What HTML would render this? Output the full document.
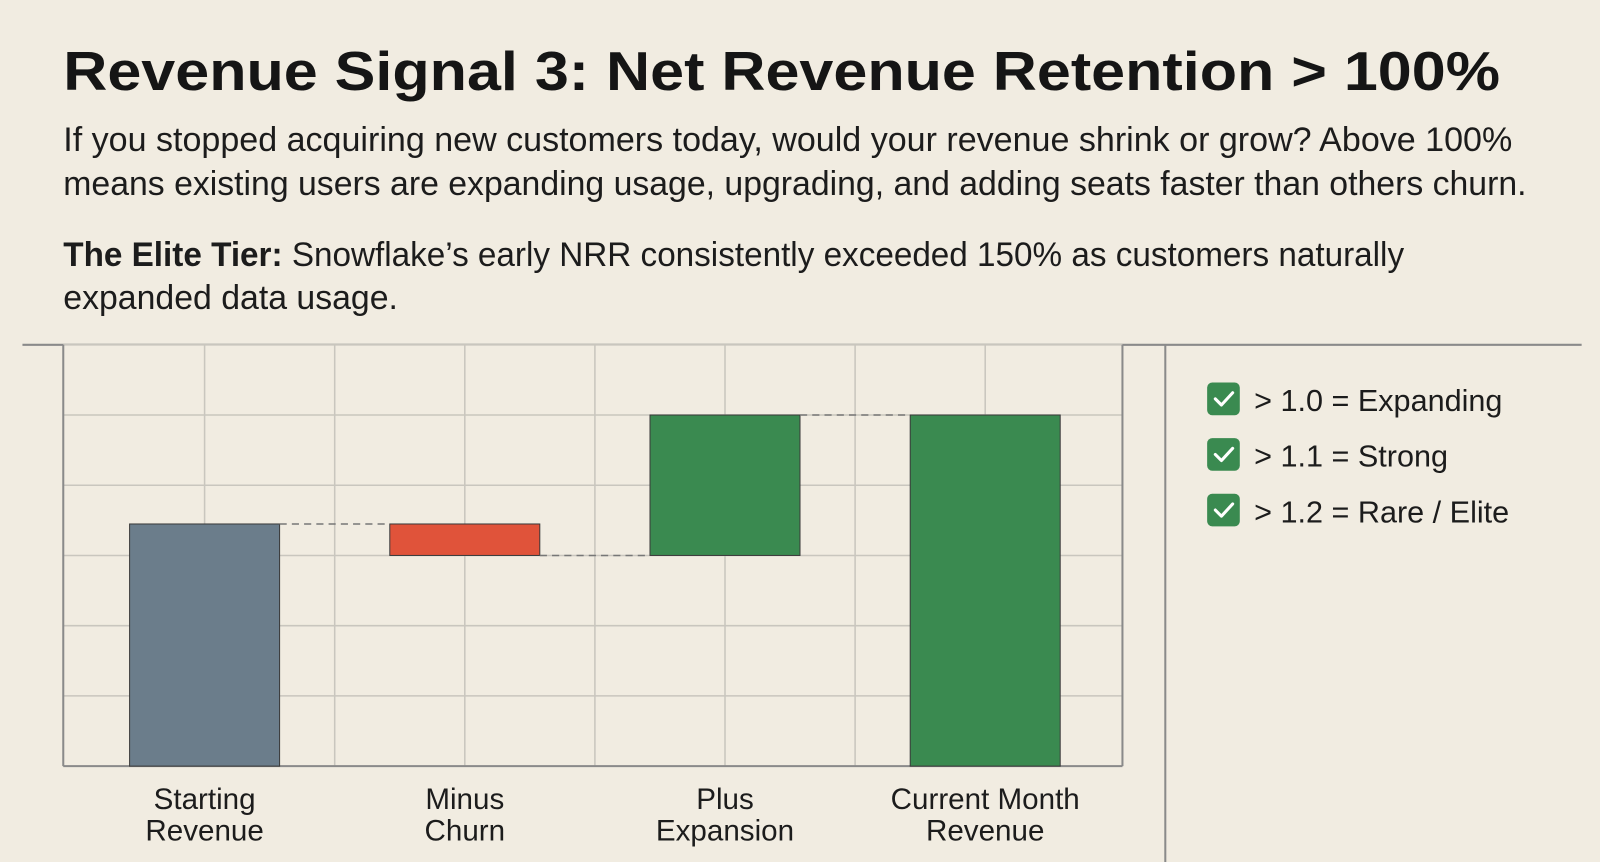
<!DOCTYPE html>
<html><head><meta charset="utf-8"><style>
html,body{margin:0;padding:0;background:#f1ece1;}
svg{display:block;font-family:"Liberation Sans",sans-serif;}
</style></head><body>
<svg id="c" width="1600" height="862" viewBox="0 0 1568 845" preserveAspectRatio="none">
<rect width="1568" height="845" fill="#f1ece1"/>
<text x="62" y="88" font-size="54" font-weight="bold" fill="#151515" textLength="1408" lengthAdjust="spacingAndGlyphs">Revenue Signal 3: Net Revenue Retention &gt; 100%</text>
<g font-size="34" fill="#1c1c1c">
<text x="62" y="148" textLength="1420" lengthAdjust="spacingAndGlyphs">If you stopped acquiring new customers today, would your revenue shrink or grow? Above 100%</text>
<text x="62" y="191" textLength="1434" lengthAdjust="spacingAndGlyphs">means existing users are expanding usage, upgrading, and adding seats faster than others churn.</text>
</g>
<g font-size="34" fill="#1c1c1c">
<text x="62" y="261" textLength="1314" lengthAdjust="spacingAndGlyphs"><tspan font-weight="bold">The Elite Tier:</tspan> Snowflake’s early NRR consistently exceeded 150% as customers naturally</text>
<text x="62" y="303" textLength="328" lengthAdjust="spacingAndGlyphs">expanded data usage.</text>
</g>
<line x1="22" y1="338" x2="1550" y2="338" stroke="#8a8a8a" stroke-width="2"/>
<line x1="1142" y1="338" x2="1142" y2="845" stroke="#8a8a8a" stroke-width="2"/>
<g id="plot"></g>
<g id="legend"></g>
</svg>
<script>
const categories=[["Starting","Revenue"],["Minus","Churn"],["Plus","Expansion"],["Current Month","Revenue"]];
const deltas=[100,-13,58,null];
const kinds=["start","neg","pos","total"];
const yMax=174;
const gridCount=6;
const legendItems=["> 1.0 = Expanding","> 1.1 = Strong","> 1.2 = Rare / Elite"];
const colors={start:"#6b7d8b",neg:"#e0533a",pos:"#3a8a50",total:"#3a8a50"};
const NS="http://www.w3.org/2000/svg";
const L=62,R=1100,T=338,B=751;
const bandStart=73,bandW=255;
const y=v=>B-(v/yMax)*(B-T);
const xc=i=>bandStart+bandW*(i+0.5);
const barW=147;
function mk(tag,attrs,parent){const e=document.createElementNS(NS,tag);for(const k in attrs)e.setAttribute(k,attrs[k]);parent.appendChild(e);return e;}
const plot=document.getElementById('plot');
mk('rect',{x:L,y:T,width:R-L,height:B-T,fill:"#f1ece1"},plot);
for(let i=0;i<=gridCount;i++){const yy=T+(B-T)*i/gridCount;const g=mk('line',{x1:L,x2:R,y1:yy,y2:yy,stroke:"#c9c6be","stroke-width":1.5},plot);

}
const vx=[];
for(let i=0;i<categories.length;i++){vx.push(xc(i));if(i>0)vx.push(bandStart+bandW*i);}
vx.forEach(xx=>{const g=mk('line',{x1:xx,x2:xx,y1:T,y2:B,stroke:"#c9c6be","stroke-width":1.5},plot);

});
mk('line',{x1:L,x2:L,y1:T,y2:B,stroke:"#8a8a8a","stroke-width":2},plot);
mk('line',{x1:L,x2:R,y1:B,y2:B,stroke:"#8a8a8a","stroke-width":2},plot);
mk('line',{x1:R,x2:R,y1:T,y2:B,stroke:"#8a8a8a","stroke-width":2},plot);
let run=0;const tops=[];
categories.forEach((c,i)=>{
 let a,b;
 if(kinds[i]==="total"){a=0;b=run;}
 else if(kinds[i]==="start"){a=0;b=deltas[i];run=deltas[i];}
 else{a=run;b=run+deltas[i];run=b;}
 const lo=Math.min(a,b),hi=Math.max(a,b);
 const r=mk('rect',{x:xc(i)-barW/2,y:y(hi),width:barW,height:y(lo)-y(hi),fill:colors[kinds[i]],stroke:"#3a3a3a","stroke-width":1},plot);
 
 
 tops.push(run);
 c.forEach((t,j)=>{const tx=mk('text',{x:xc(i),y:793+j*31,"text-anchor":"middle","font-size":29,fill:"#1c1c1c"},plot);tx.textContent=t;
 
 });
});
for(let i=0;i<categories.length-1;i++){const yy=y(tops[i]);
 const d=mk('line',{x1:xc(i)+barW/2,x2:xc(i+1)-barW/2,y1:yy,y2:yy,stroke:"#777","stroke-width":1.5,"stroke-dasharray":"7,5"},plot);
 
 }
const lg=document.getElementById('legend');
legendItems.forEach((t,i)=>{const yy=375+i*54.5;
 const g=mk('g',{},lg);
 
 
 mk('rect',{x:1183,y:yy,width:32,height:32,rx:5,fill:"#3a8a50"},g);
 mk('path',{d:`M${1191} ${yy+16} l6 6 l11 -12`,fill:"none",stroke:"#fff","stroke-width":3,"stroke-linecap":"round","stroke-linejoin":"round"},g);
 const tx=mk('text',{x:1229,y:yy+28,"font-size":30,fill:"#1c1c1c"},g);tx.textContent=t;});
</script>
</body></html>
